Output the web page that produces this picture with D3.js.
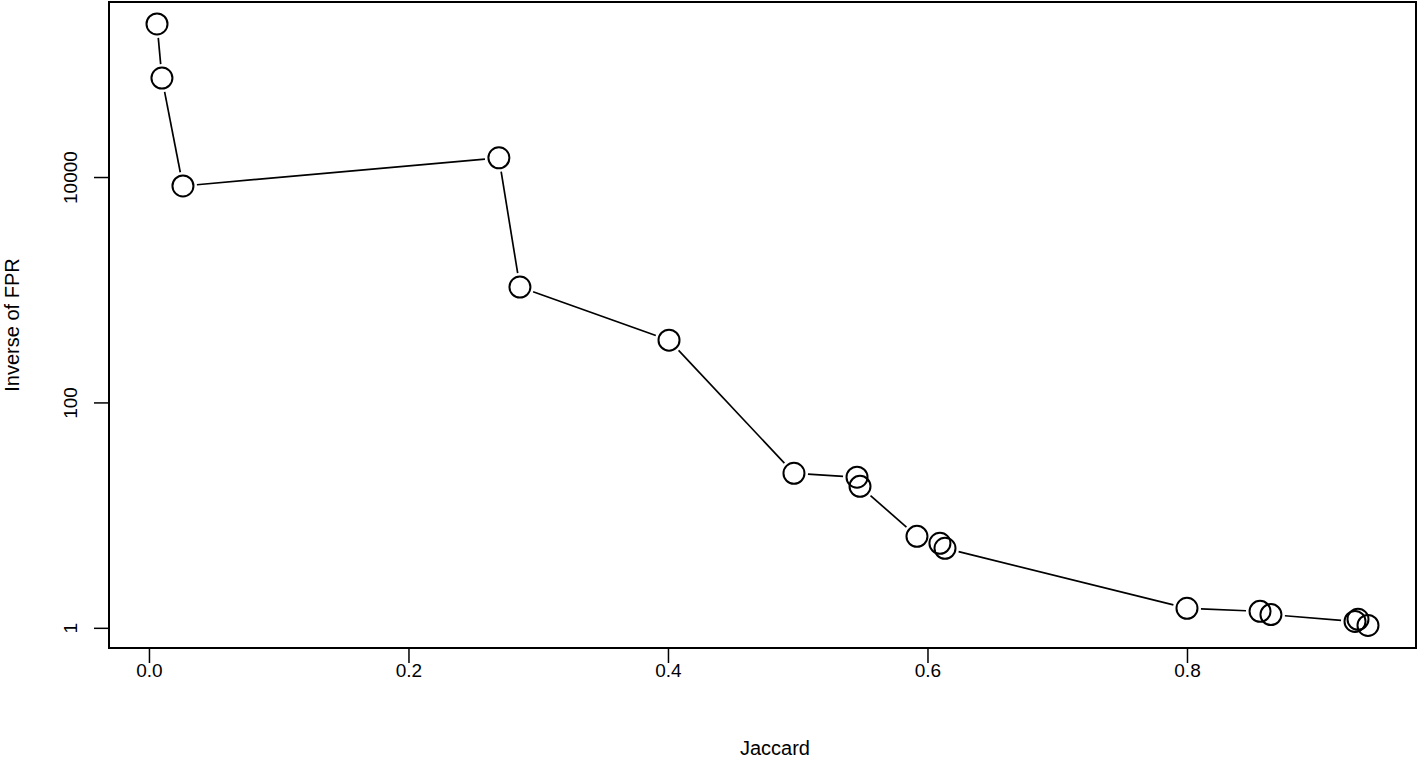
<!DOCTYPE html>
<html>
<head>
<meta charset="utf-8">
<script src="https://cdn.jsdelivr.net/npm/d3@7"></script>
<style>
  body { margin: 0; background: #fff; }
  text { font-family: "Liberation Sans", Arial, sans-serif; fill: #000; }
</style>
</head>
<body>
<div id="chart"></div>
<script>
// values
var jaccard = [0.0062, 0.0100, 0.0262, 0.2697, 0.2859, 0.4008, 0.4971, 0.5457, 0.5480,
  0.5919, 0.6096, 0.6135, 0.8000, 0.8563, 0.8647, 0.9295, 0.9318, 0.9395];
var invFpr = [228000, 75500, 8330, 14800, 1057, 357, 23.5, 21.7, 18.0,
  6.48, 5.62, 5.08, 1.49, 1.40, 1.31, 1.14, 1.19, 1.05];
var xTicks = [0, 0.2, 0.4, 0.6, 0.8];
var yTicks = [1, 100, 10000];

var svgWidth = 1418;
var svgHeight = 758;

var margin = { top: 2, right: 2, bottom: 110, left: 109 };
var width = svgWidth - margin.left - margin.right;
var height = svgHeight - margin.top - margin.bottom;

var svg = d3.select("#chart")
  .append("svg")
  .attr("width", svgWidth)
  .attr("height", svgHeight);

var chartGroup = svg.append("g")
  .attr("transform", `translate(${margin.left}, ${margin.top})`);

// R-style usr ranges (data range padded 4%)
var xScale = d3.scaleLinear()
  .domain([-0.0308, 0.9765])
  .range([0, width]);

var yScale = d3.scaleLog()
  .domain([Math.pow(10, -0.179), Math.pow(10, 5.553)])
  .range([height, 0]);

// axes
var bottomAxis = d3.axisBottom(xScale)
  .tickValues(xTicks)
  .tickSize(15)
  .tickPadding(1)
  .tickFormat(d3.format(".1f"));

var leftAxis = d3.axisLeft(yScale)
  .tickValues(yTicks)
  .tickSize(15)
  .tickFormat(d3.format("d"));

var xAxis = chartGroup.append("g")
  .attr("transform", `translate(0, ${height})`)
  .call(bottomAxis);
xAxis.select(".domain").remove();
xAxis.selectAll("line").attr("stroke-width", 1.5);
xAxis.selectAll("text").style("font-size", "19px").attr("font-family", null);

var yAxis = chartGroup.append("g")
  .call(leftAxis);
yAxis.select(".domain").remove();
yAxis.selectAll("line").attr("stroke-width", 1.5);
yAxis.selectAll("text")
  .style("font-size", "19px")
  .attr("font-family", null)
  .attr("x", null)
  .attr("dy", null)
  .attr("text-anchor", "middle")
  .attr("transform", "translate(-32, 0) rotate(-90)");

// box
chartGroup.append("rect")
  .attr("x", 0)
  .attr("y", 0)
  .attr("width", width)
  .attr("height", height)
  .attr("fill", "none")
  .attr("stroke", "#000")
  .attr("stroke-width", 2);

// type = "b": segments with gaps round the points
var pts = jaccard.map((d, i) => [xScale(d), yScale(invFpr[i])]);
var gap = 14;
var segs = [];
for (var i = 0; i < pts.length - 1; i++) {
  var dx = pts[i + 1][0] - pts[i][0];
  var dy = pts[i + 1][1] - pts[i][1];
  var len = Math.sqrt(dx * dx + dy * dy);
  if (len > 2 * gap) {
    segs.push([
      pts[i][0] + dx * gap / len, pts[i][1] + dy * gap / len,
      pts[i + 1][0] - dx * gap / len, pts[i + 1][1] - dy * gap / len
    ]);
  }
}

chartGroup.selectAll(".seg")
  .data(segs)
  .enter()
  .append("line")
  .attr("class", "seg")
  .attr("x1", d => d[0])
  .attr("y1", d => d[1])
  .attr("x2", d => d[2])
  .attr("y2", d => d[3])
  .attr("stroke", "#000")
  .attr("stroke-width", 1.7);

chartGroup.selectAll("circle")
  .data(jaccard)
  .enter()
  .append("circle")
  .attr("cx", d => xScale(d))
  .attr("cy", (d, i) => yScale(invFpr[i]))
  .attr("r", 10.5)
  .attr("fill", "none")
  .attr("stroke", "#000")
  .attr("stroke-width", 2);

// axis titles
svg.append("text")
  .attr("x", margin.left + xScale(0.4) + 107)
  .attr("y", 755)
  .attr("text-anchor", "middle")
  .style("font-size", "20px")
  .text("Jaccard");

svg.append("text")
  .attr("transform", `translate(19, ${margin.top + height / 2}) rotate(-90)`)
  .attr("text-anchor", "middle")
  .style("font-size", "20px")
  .text("Inverse of FPR");
</script>
</body>
</html>
